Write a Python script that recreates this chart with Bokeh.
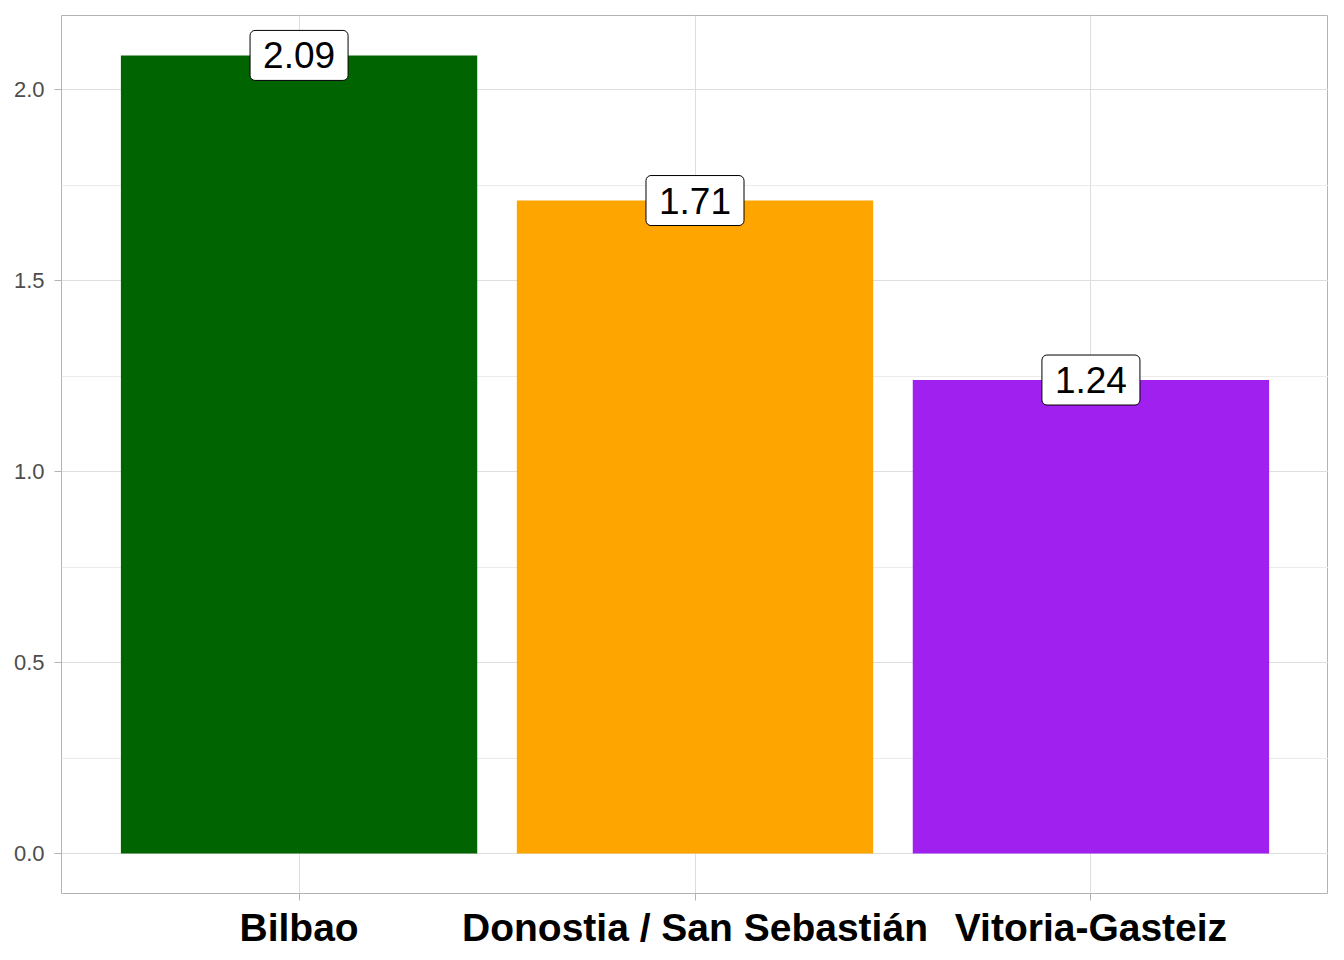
from bokeh.plotting import figure
from bokeh.models import ColumnDataSource, FactorRange, Range1d, FixedTicker
from bokeh.core.properties import value
from bokeh.embed import file_html
from bokeh.resources import INLINE

cities = ["Bilbao", "Donostia / San Sebastián", "Vitoria-Gasteiz"]
values = [2.09, 1.71, 1.24]
colors = ["#006400", "#FFA500", "#A020F0"]
labels = ["2.09", "1.71", "1.24"]
y_ticks = [0.0, 0.5, 1.0, 1.5, 2.0]
y_minor = [0.25, 0.75, 1.25, 1.75]

src = ColumnDataSource(dict(x=cities, top=values, color=colors, label=labels))

ymax = max(values) * 1.05
p = figure(
    width=1328, height=951,
    x_range=FactorRange(factors=cities, range_padding=0.2 / 3),
    y_range=Range1d(-max(values) * 0.05, ymax),
    output_backend="svg", toolbar_location=None,
    min_border_left=61, min_border_right=0, min_border_top=15, min_border_bottom=58,
)
p.background_fill_color = "white"
p.border_fill_color = "white"
p.outline_line_color = "#B3B3B3"
p.outline_line_width = 1

p.vbar(x="x", top="top", bottom=0, width=0.9, color="color", line_color=None, source=src)

p.text(x="x", y="top", text="label", source=src,
       text_align="center", text_baseline="middle",
       text_font=value("Liberation Sans"), text_font_size="37px", text_color="black",
       background_fill_color="white", border_line_color="black", border_line_width=1,
       border_radius=5, padding=dict(left=13, right=13, top=12, bottom=12))

# axes
p.yaxis.ticker = FixedTicker(ticks=y_ticks, minor_ticks=y_minor)
p.yaxis.major_label_overrides = {t: f"{t:.1f}" for t in y_ticks}
for ax in (p.xaxis[0], p.yaxis[0]):
    ax.axis_line_color = None
    ax.major_tick_line_color = "#B3B3B3"
    ax.major_tick_in = 0
    ax.major_tick_out = 7
    ax.minor_tick_line_color = None
p.yaxis.major_label_text_font = "Liberation Sans"
p.yaxis.major_label_text_font_size = "22px"
p.yaxis.major_label_text_color = "#4D4D4D"
p.yaxis.major_label_standoff = 10
p.xaxis.major_label_text_font = "Liberation Sans"
p.xaxis.major_label_text_font_size = "39px"
p.xaxis.major_label_text_font_style = "bold"
p.xaxis.major_label_text_color = "black"
p.xaxis.major_label_standoff = 5

# grids
p.ygrid.grid_line_color = "#DEDEDE"
p.ygrid.grid_line_width = 1
p.ygrid.minor_grid_line_color = "#EBEBEB"
p.ygrid.minor_grid_line_width = 1
p.xgrid.grid_line_color = "#DEDEDE"
p.xgrid.grid_line_width = 1

open("out.html", "w").write(file_html(p, INLINE))
